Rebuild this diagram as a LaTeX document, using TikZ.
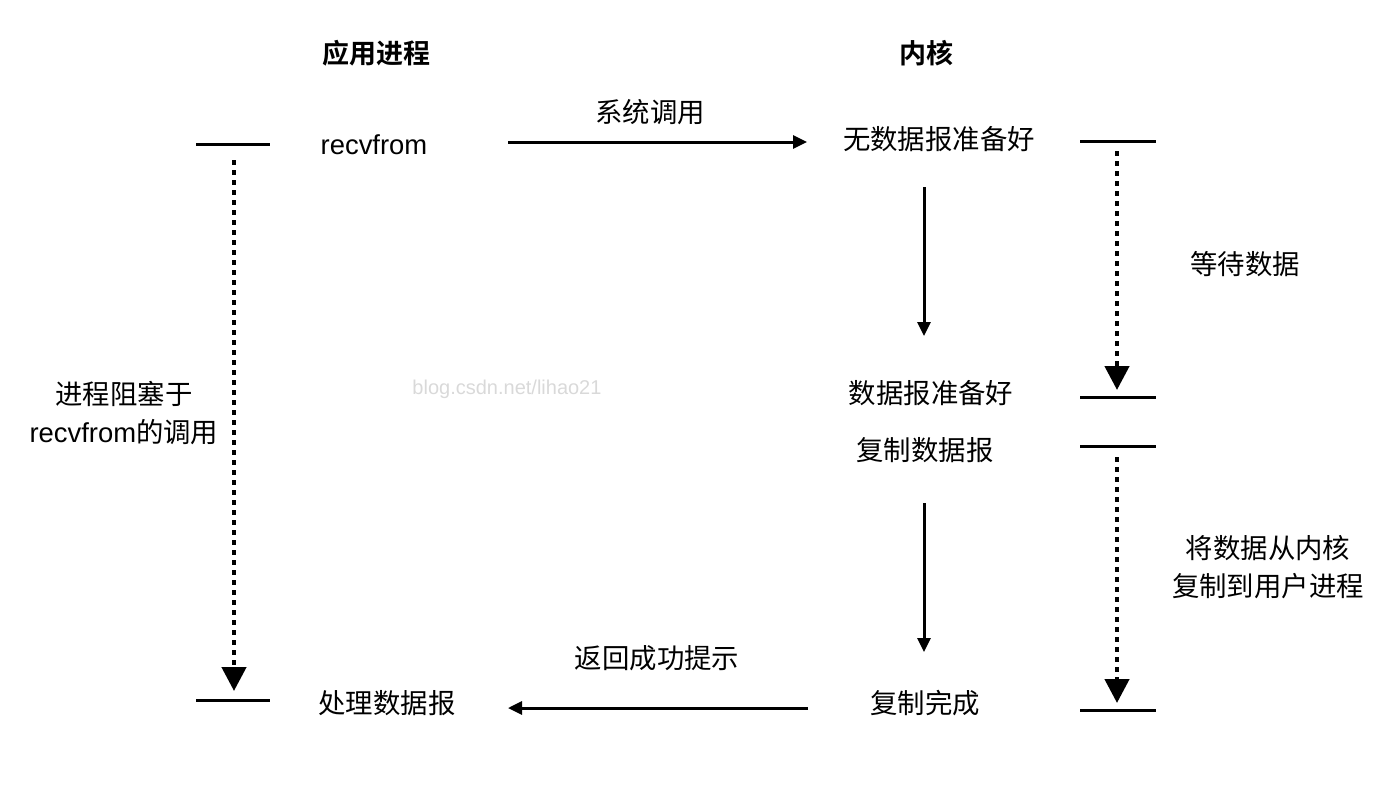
\documentclass[tikz,border=0pt]{standalone}
\usepackage{fontspec}
\setmainfont{Liberation Sans}
\newfontfamily\cjk{Noto Sans CJK SC}
\newfontfamily\cjkb{Noto Sans CJK SC Bold}
\usetikzlibrary{arrows.meta}
\begin{document}
\begin{tikzpicture}[x=1pt,y=-1pt,
  lbl/.style={font=\fontsize{27.4}{32}\selectfont\cjk, inner sep=0pt, anchor=center},
  lat/.style={font=\fontsize{27.4}{32}\selectfont, inner sep=0pt, anchor=center},
  ttl/.style={font=\fontsize{27}{32}\selectfont\cjkb, inner sep=0pt},
  tick/.style={line width=3pt},
  solidarr/.style={line width=3pt, -{Triangle[length=14pt,width=13pt]}},
  dotarr/.style={line width=4.5pt, dash pattern=on 4.5pt off 5.5pt, -{Triangle[length=24pt,width=24pt]}},
  wm/.style={font=\fontsize{20}{24}\selectfont, text=black!15, inner sep=0pt}]
\useasboundingbox (0,0) rectangle (1392,796);
% titles
\node[ttl] (tapp) at (376,53) {应用进程};
\node[ttl] (tker) at (926,53) {内核};
% left ticks
\coordinate (lt1a) at (196,144); \coordinate (lt1b) at (270,144);
\coordinate (lt2a) at (196,700); \coordinate (lt2b) at (270,700);
\draw[tick] (lt1a) -- (lt1b);
\draw[tick] (lt2a) -- (lt2b);
\coordinate (ld1) at (234,160); \coordinate (ld2) at (234,691);
\draw[dotarr] (ld1) -- (ld2);
% right ticks
\coordinate (rt1a) at (1080,141); \coordinate (rt1b) at (1156,141);
\coordinate (rt2a) at (1080,397); \coordinate (rt2b) at (1156,397);
\coordinate (rt3a) at (1080,446); \coordinate (rt3b) at (1156,446);
\coordinate (rt4a) at (1080,710); \coordinate (rt4b) at (1156,710);
\draw[tick] (rt1a) -- (rt1b);
\draw[tick] (rt2a) -- (rt2b);
\draw[tick] (rt3a) -- (rt3b);
\draw[tick] (rt4a) -- (rt4b);
\coordinate (rd1) at (1117,151); \coordinate (rd2) at (1117,390);
\coordinate (rd3) at (1117,457); \coordinate (rd4) at (1117,703);
\draw[dotarr] (rd1) -- (rd2);
\draw[dotarr] (rd3) -- (rd4);
% texts
\node[lat] (recv) at (374,145) {recvfrom};
\node[lbl] (nodata) at (939,139) {无数据报准备好};
\node[lbl] (ready) at (931,393) {数据报准备好};
\node[lbl] (copy) at (925,450) {复制数据报};
\node[lbl] (done) at (925,703) {复制完成};
\node[lbl] (proc) at (387,703) {处理数据报};
\node[lbl] (wait) at (1245,264) {等待数据};
\node[lbl, align=center] (copyk) at (1268,567) {将数据从内核\\[6pt]复制到用户进程};
\node[lbl, align=center] (block) at (124,413) {进程阻塞于\\[6pt]{\fontspec{Liberation Sans}recvfrom}的调用};
\node[wm] (wmark) at (507,389) {blog.csdn.net/lihao21};
% arrows
\coordinate (a1s) at (508,142); \coordinate (a1e) at (807,142);
\draw[solidarr] (a1s) -- (a1e);
\node[lbl] (syscall) at (650,112) {系统调用};
\coordinate (a2s) at (924,187); \coordinate (a2e) at (924,336);
\draw[solidarr] (a2s) -- (a2e);
\coordinate (a3s) at (924,503); \coordinate (a3e) at (924,652);
\draw[solidarr] (a3s) -- (a3e);
\coordinate (a4s) at (808,708); \coordinate (a4e) at (508,708);
\draw[solidarr] (a4s) -- (a4e);
\node[lbl] (ret) at (657,658) {返回成功提示};
\end{tikzpicture}
\end{document}
